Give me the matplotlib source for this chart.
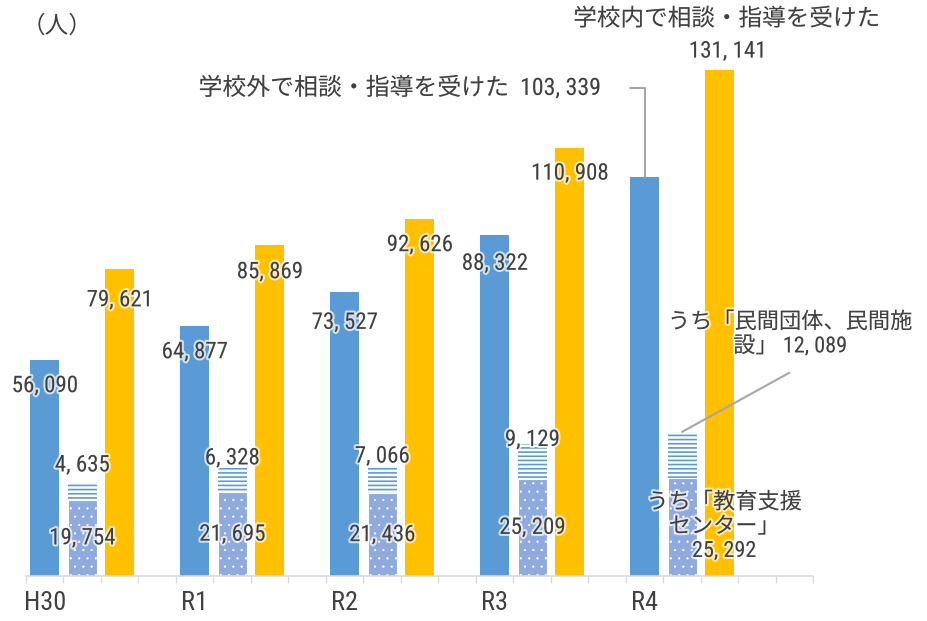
import matplotlib
matplotlib.use("Agg")
import matplotlib.pyplot as plt
import matplotlib.patheffects as pe
import numpy as np

# ---- data ----
categories = ["H30", "R1", "R2", "R3", "R4"]
outside = [56090, 64877, 73527, 88322, 103339]      # 学校外で相談・指導を受けた
center = [19754, 21695, 21436, 25209, 25292]        # うち「教育支援センター」
private = [4635, 6328, 7066, 9129, 12089]           # うち「民間団体、民間施設」
inside = [79621, 85869, 92626, 110908, 131141]      # 学校内で相談・指導を受けた

# ---- style ----
BLUE = "#5B9BD5"
YELLOW = "#FFC000"
DOT = "#8FAADC"
TXT = "#404040"
GREY = "#A6A6A6"
FAM = ["Roboto Condensed", "Noto Sans CJK JP", "DejaVu Sans"]
plt.rcParams["font.family"] = FAM

fig = plt.figure(figsize=(9.28, 6.21), dpi=100)
ax = fig.add_axes([26 / 928, 45 / 621, 787.5 / 928, 540.1 / 621])

n = len(categories)
xb = np.arange(n) * 4
xs = xb + 1
xy_ = xb + 2
w = 0.78

ax.bar(xb, outside, width=w, color=BLUE, linewidth=0)
plt.rcParams["hatch.linewidth"] = 0.4
ax.bar(xs, center, width=w, color=DOT, edgecolor="white", linewidth=0.8, hatch="..")
plt.rcParams["hatch.linewidth"] = 1.2
ax.bar(xs, private, width=w, bottom=center, color="white", edgecolor=BLUE,
       linewidth=0, hatch="----")
ax.bar(xy_, inside, width=w, color=YELLOW, linewidth=0)

ax.set_xlim(-0.5, 20.5)
ax.set_ylim(0, 140000)
for s in ["top", "right", "left"]:
    ax.spines[s].set_visible(False)
ax.spines["bottom"].set_color("#D9D9D9")
ax.spines["bottom"].set_linewidth(1.2)
ax.set_yticks([])
ax.set_xticks(np.arange(-0.5, 21, 1))
ax.set_xticklabels([])
ax.tick_params(axis="x", which="major", length=5, width=1, color="#D9D9D9")
ax.set_xticks(xb, minor=True)
ax.set_xticklabels(categories, minor=True, fontsize=19, color=TXT)
ax.tick_params(axis="x", which="minor", length=0, pad=11)

glow = [pe.withStroke(linewidth=3, foreground=(1, 1, 1, 0.7))]


def fmt(v):
    return f"{v:,}".replace(",", ", ")


def lab(text, x, y, dx, dy, ha="center", size=16.5, **kw):
    ax.annotate(text, xy=(x, y), xytext=(dx, dy), textcoords="offset pixels",
                ha=ha, va="center", fontsize=size, color=TXT,
                path_effects=glow, annotation_clip=False, **kw)


blue_dy = [-26, -26, -30, -28]
yellow_dy = [-31, -27, -26, -25]
priv_dy = [17, 10, 10, 4]
for i in range(n - 1):
    lab(fmt(outside[i]), xb[i], outside[i], 0, blue_dy[i])
    lab(fmt(inside[i]), xy_[i], inside[i], 0, yellow_dy[i])
    lab(fmt(private[i]), xs[i], center[i] + private[i], 0, priv_dy[i])
    lab(fmt(center[i]), xs[i], center[i] / 2, 0, 0)

# R4 labels
i = n - 1
lab(f"学校外で相談・指導を受けた  {fmt(outside[i])}", xb[i], outside[i], -44, 89,
    ha="right", size=17.2)
ax.annotate("", xy=(xb[i], outside[i]), xytext=(-15, 89), textcoords="offset pixels",
            arrowprops=dict(arrowstyle="-", color=GREY, lw=1.5, shrinkA=0, shrinkB=0,
                            connectionstyle="angle,angleA=0,angleB=90,rad=0"))
lab(fmt(inside[i]), xy_[i], inside[i], 8, 19)
lab("学校内で相談・指導を受けた", xy_[i], inside[i], 7, 51, size=17)
lab(f"うち「民間団体、民間施\n設」 {fmt(private[i])}", xs[i], center[i] + private[i],
    108, 97, multialignment="center", linespacing=1.15, size=16)
ax.annotate("", xy=(xs[i], center[i] + private[i]), xytext=(107, 59),
            textcoords="offset pixels",
            arrowprops=dict(arrowstyle="-", color=GREY, lw=1.5, shrinkA=0, shrinkB=0))
lab(f"うち「教育支援\nセンター」\n{fmt(center[i])}", xs[i], center[i] / 2, 42, 0,
    multialignment="center", linespacing=1.2, size=16)

fig.text(57 / 928, 1 - 26 / 621, "（人）", ha="center", va="center",
         fontsize=17, color=TXT)

fig.savefig("out.png", dpi=100)
